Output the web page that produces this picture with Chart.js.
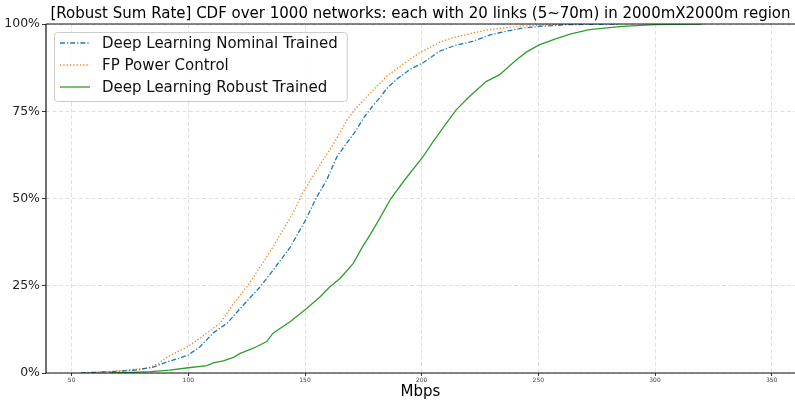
<!DOCTYPE html>
<html>
<head>
<meta charset="utf-8">
<script src="https://cdn.jsdelivr.net/npm/chart.js@4.4.0/dist/chart.umd.min.js"></script>
<style>
  html, body { margin: 0; padding: 0; background: #fff; }
  #wrap { width: 795px; height: 401px; }
</style>
</head>
<body>
<div id="wrap"><canvas id="cdfChart" width="795" height="401"></canvas></div>
<script>
// --- data (Mbps -> cumulative %) ---
const seriesNames = ['Deep Learning Nominal Trained', 'FP Power Control', 'Deep Learning Robust Trained'];

const nominalMbps = [54, 60, 70, 78, 85, 91, 96, 100, 105, 110.7, 116.7, 123.6, 130.8, 136.4, 143.6, 150, 155, 159.3, 163.7, 168, 172, 175, 179, 182, 185, 189, 195, 200.6, 207.7, 214, 221.8, 229, 236, 243, 250.4, 262, 284];
const nominalCdf  = [0, 0.2, 0.5, 0.9, 1.7, 3.2, 4.2, 5.2, 7.5, 11.5, 14.3, 19.5, 24.7, 29.5, 36, 43.5, 50.4, 55.3, 62, 66, 69.6, 73, 76.5, 78.8, 81.5, 84, 87, 88.9, 92.2, 93.8, 95, 96.8, 97.9, 98.8, 99.3, 99.8, 100];

const fpMbps = [55, 62, 70, 82.5, 87, 91, 95, 99.6, 104, 108, 113.7, 119, 125, 130.8, 136, 140.6, 145, 149, 153, 157.7, 163, 168, 172, 178, 185, 192, 199, 207.7, 213, 221.8, 227.8, 236, 242, 250, 262];
const fpCdf  = [0, 0.3, 0.6, 1.4, 2.6, 4.6, 6, 7.5, 9.5, 11.5, 14.3, 19.5, 24.6, 30.4, 35.8, 41, 46, 51.6, 56, 61, 66.5, 72.5, 76, 80.2, 85, 88.5, 91.7, 94.8, 96, 97.4, 98.3, 98.9, 99.4, 99.6, 100];

const robustMbps = [66, 75, 84, 92, 100, 108, 110.7, 115, 119.4, 122.2, 127.9, 133.6, 136.3, 143.6, 150.7, 156.4, 160.7, 165, 170.7, 174.5, 177.8, 181.6, 186.8, 192.7, 200.6, 204.9, 210, 214.8, 220.5, 227.6, 233.3, 240.5, 245, 250.4, 257.7, 264, 271.8, 286, 300, 320];
const robustCdf  = [0, 0.2, 0.4, 0.8, 1.5, 2.1, 2.9, 3.5, 4.5, 5.6, 7.1, 9, 11.4, 14.7, 18.5, 21.8, 24.7, 27.1, 31.4, 36, 39.5, 43.8, 50, 55.3, 62, 66.3, 71, 75.4, 79.2, 83.5, 85.4, 89.7, 92, 94, 95.8, 97.2, 98.4, 99.3, 99.8, 100];

const xTicks = [50, 100, 150, 200, 250, 300, 350];
const yTicks = [0, 25, 50, 75, 100];

const toPoints = (xs, ys) => xs.map((x, i) => ({ x: x, y: ys[i] }));

Chart.defaults.font.family = "'DejaVu Sans', sans-serif";

// axes frame (left, top, bottom) + legend box in the upper left corner
const frame = {
    id: 'frame',
    afterDraw(chart) {
        const { ctx, chartArea: a } = chart;
        ctx.save();
        ctx.strokeStyle = '#111';
        ctx.lineWidth = 1.2;
        ctx.setLineDash([]);
        ctx.beginPath();
        ctx.moveTo(a.left, a.top);
        ctx.lineTo(a.right, a.top);
        ctx.moveTo(a.left, a.top);
        ctx.lineTo(a.left, a.bottom);
        ctx.lineTo(a.right, a.bottom);
        ctx.stroke();

        // legend
        ctx.font = "15px 'DejaVu Sans', sans-serif";
        const left = a.left + 8, top = a.top + 8;
        const textX = left + 48;
        const maxW = Math.max(...seriesNames.map(n => ctx.measureText(n).width));
        const w = textX - left + maxW + 9, h = 69;
        ctx.beginPath();
        ctx.roundRect(left + 0.5, top + 0.5, w, h, 3);
        ctx.fillStyle = 'rgba(255,255,255,0.85)';
        ctx.fill();
        ctx.strokeStyle = '#cccccc';
        ctx.lineWidth = 1;
        ctx.stroke();
        chart.data.datasets.forEach((ds, i) => {
            const y = top + 11 + i * 22;
            ctx.beginPath();
            ctx.setLineDash(ds.borderDash || []);
            ctx.strokeStyle = ds.borderColor;
            ctx.lineWidth = ds.borderWidth;
            ctx.moveTo(left + 6, y);
            ctx.lineTo(left + 36, y);
            ctx.stroke();
            ctx.setLineDash([]);
            ctx.fillStyle = '#111';
            ctx.textBaseline = 'middle';
            ctx.textAlign = 'left';
            ctx.fillText(ds.label, textX, y + 1);
        });
        ctx.restore();
    }
};

new Chart(document.getElementById('cdfChart'), {
    type: 'line',
    data: {
        datasets: [{
            label: seriesNames[0],
            data: toPoints(nominalMbps, nominalCdf),
            borderColor: '#1f77b4',
            borderDash: [5, 2, 1.2, 2],
            borderWidth: 1.3
        }, {
            label: seriesNames[1],
            data: toPoints(fpMbps, fpCdf),
            borderColor: '#ff7f0e',
            borderDash: [1.3, 2],
            borderWidth: 1.3
        }, {
            label: seriesNames[2],
            data: toPoints(robustMbps, robustCdf),
            borderColor: '#2ca02c',
            borderWidth: 1.3
        }]
    },
    options: {
        responsive: false,
        animation: false,
        devicePixelRatio: 1,
        layout: { padding: 0 },
        elements: {
            point: { radius: 0 },
            line: { tension: 0, fill: false }
        },
        scales: {
            x: {
                type: 'linear',
                min: 39,
                max: 360,
                afterBuildTicks: s => { s.ticks = xTicks.map(v => ({ value: v })); },
                afterFit: s => { s.height = 28; },
                ticks: { font: { size: 6 }, color: '#444', padding: 1, maxRotation: 0, autoSkip: false },
                grid: { color: 'rgba(0,0,0,0.12)', tickLength: 3, tickColor: '#333', tickBorderDash: [] },
                border: { display: false, dash: [4, 2.5] },
                title: { display: true, text: 'Mbps', color: '#000', font: { size: 15 }, padding: { top: 0, bottom: 0 } }
            },
            y: {
                min: 0,
                max: 100,
                afterBuildTicks: s => { s.ticks = yTicks.map(v => ({ value: v })); },
                afterFit: s => { s.width = 46; },
                ticks: { font: { size: 12.5 }, color: '#222', padding: 2, callback: v => v + '%' },
                grid: { color: 'rgba(0,0,0,0.12)', tickLength: 4, tickColor: '#333', tickBorderDash: [] },
                border: { display: false, dash: [4, 2.5] }
            }
        },
        plugins: {
            legend: { display: false },
            tooltip: { enabled: false },
            title: {
                display: true,
                fullSize: false,
                text: '[Robust Sum Rate] CDF over 1000 networks: each with 20 links (5~70m) in 2000mX2000m region',
                color: '#000',
                font: { size: 15, weight: 'normal' },
                padding: { top: 5, bottom: 1 }
            }
        }
    },
    plugins: [frame]
});
</script>
</body>
</html>
